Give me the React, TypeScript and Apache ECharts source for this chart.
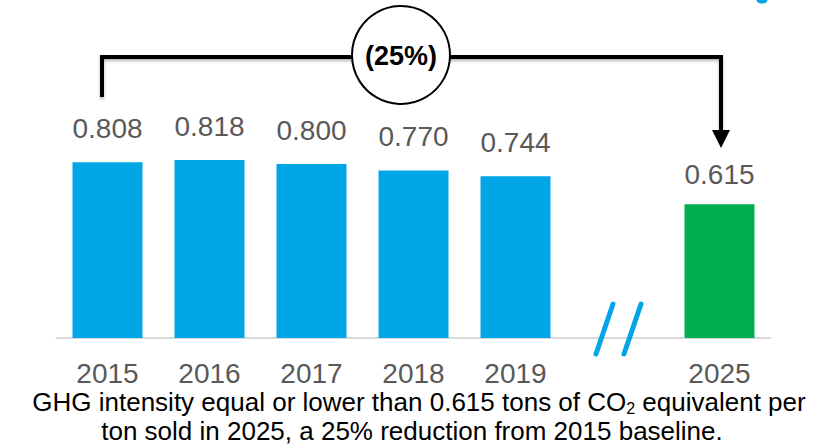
import React, { useEffect, useRef } from 'react';
import * as echarts from 'echarts';

const categories = ['2015', '2016', '2017', '2018', '2019', '', '2025'];
const values: (number | null)[] = [0.808, 0.818, 0.8, 0.77, 0.744, null, 0.615];
const targetYear = '2025';
const reductionText = '(25%)';
const noteLine1 = 'GHG intensity equal or lower than 0.615 tons of CO{sub|2} equivalent per';
const noteLine2 = 'ton sold in 2025, a 25% reduction from 2015 baseline.';

const BLUE = '#00a6e6';
const GREEN = '#00b050';
const GRAY = '#595959';
const FONT = '"Liberation Sans", Arial, sans-serif';

export default function App() {
  const ref = useRef<HTMLDivElement>(null);
  useEffect(() => {
    if (!ref.current) return;
    const chart = echarts.init(ref.current, undefined, { renderer: 'svg' });
    const data = values.map((v, i) => {
      if (v == null) return '-';
      const isTarget = categories[i] === targetYear;
      return {
        value: v,
        itemStyle: { color: isTarget ? GREEN : BLUE },
        label: { distance: isTarget ? 16 : 20 },
      };
    });
    chart.setOption({
      animation: false,
      grid: { left: 56.5, right: 54.5, top: 120.5, bottom: 109 },
      xAxis: {
        type: 'category',
        data: categories,
        axisTick: { show: false },
        axisLine: { lineStyle: { color: '#d9d9d9', width: 2 } },
        axisLabel: {
          color: GRAY,
          fontSize: 28,
          lineHeight: 28,
          fontFamily: FONT,
          margin: 21,
        },
      },
      yAxis: { type: 'value', min: 0, max: 1, show: false, splitLine: { show: false } },
      series: [
        {
          type: 'bar',
          data,
          barWidth: 70,
          label: {
            show: true,
            position: 'top',
            color: GRAY,
            fontSize: 28,
            lineHeight: 28,
            fontFamily: FONT,
            formatter: (p: any) => Number(p.value).toFixed(3),
          },
        },
      ],
      graphic: [
        // bracket
        {
          type: 'polyline',
          shape: { points: [[102, 97], [102, 57], [721, 57], [721, 132]] },
          style: {
            stroke: '#000',
            lineWidth: 4,
            fill: 'none',
            shadowBlur: 3,
            shadowColor: 'rgba(0,0,0,0.3)',
            shadowOffsetY: 2,
          },
          z: 10,
        },
        {
          type: 'polygon',
          shape: { points: [[712, 130], [730, 130], [721, 148]] },
          style: { fill: '#000' },
          z: 10,
        },
        {
          type: 'circle',
          shape: { cx: 401, cy: 55, r: 49 },
          style: { fill: '#fff', stroke: '#000', lineWidth: 2 },
          z: 11,
        },
        {
          type: 'text',
          x: 401,
          y: 56,
          style: {
            text: reductionText,
            fontSize: 27,
            fontWeight: 'bold',
            fontFamily: FONT,
            fill: '#000',
            align: 'center',
            verticalAlign: 'middle',
          },
          z: 12,
        },
        // axis break marks
        {
          type: 'line',
          shape: { x1: 613, y1: 304, x2: 596, y2: 354 },
          style: { stroke: BLUE, lineWidth: 5, lineCap: 'round' },
          z: 10,
        },
        {
          type: 'line',
          shape: { x1: 641, y1: 304, x2: 624, y2: 354 },
          style: { stroke: BLUE, lineWidth: 5, lineCap: 'round' },
          z: 10,
        },
        // cropped title fragment
        {
          type: 'ellipse',
          shape: { cx: 762, cy: 0, rx: 5.5, ry: 3.5 },
          style: { fill: BLUE },
        },
        // footnote
        {
          type: 'text',
          x: 419,
          y: 402,
          style: {
            text: noteLine1,
            fontSize: 26,
            lineHeight: 26,
            fontFamily: FONT,
            fill: '#000',
            align: 'center',
            verticalAlign: 'middle',
            rich: {
              sub: {
                fontSize: 16,
                lineHeight: 13,
                padding: [11, 0, 0, 0],
                verticalAlign: 'top',
                fontFamily: FONT,
                fill: '#000',
              },
            },
          },
        },
        {
          type: 'text',
          x: 412,
          y: 431,
          style: {
            text: noteLine2,
            fontSize: 26,
            lineHeight: 26,
            fontFamily: FONT,
            fill: '#000',
            align: 'center',
            verticalAlign: 'middle',
          },
        },
      ],
    });
    return () => chart.dispose();
  }, []);
  return (
    <div
      ref={ref}
      style={{ position: 'fixed', left: 0, top: 0, width: 825, height: 447, background: '#fff' }}
    />
  );
}
